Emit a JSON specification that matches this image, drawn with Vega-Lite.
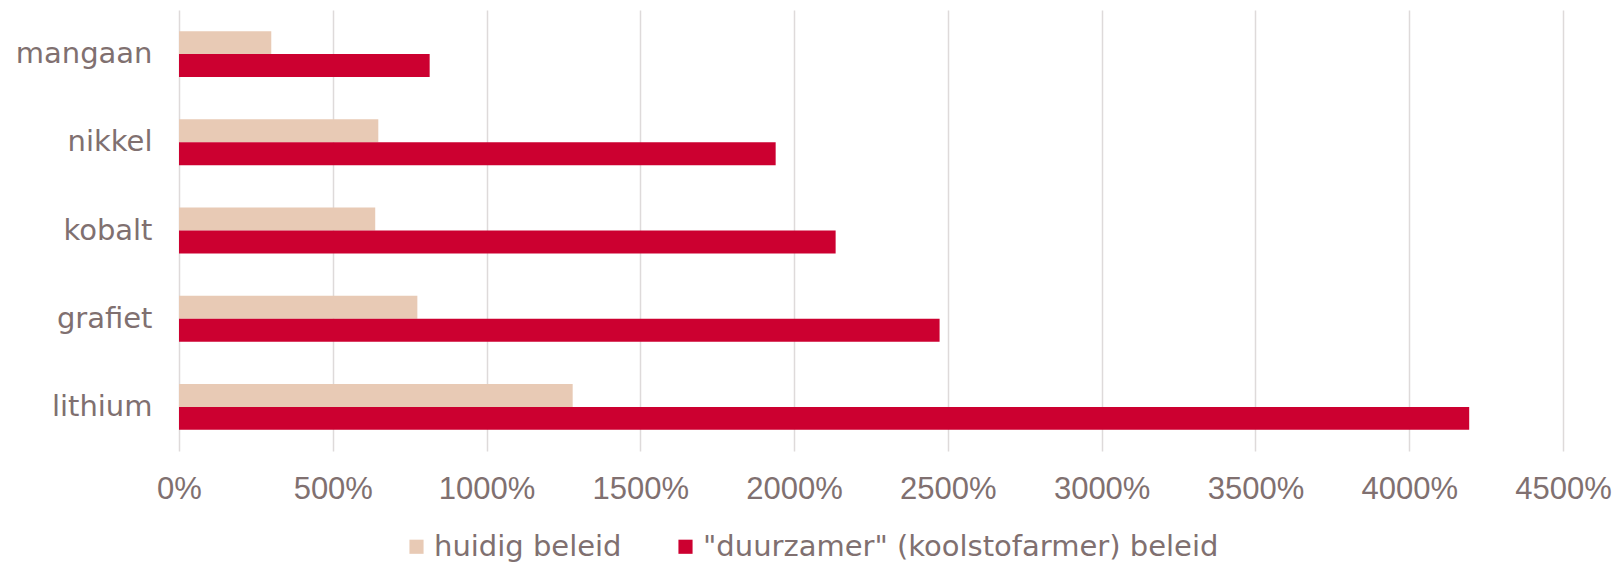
{
  "$schema": "https://vega.github.io/schema/vega-lite/v6.json",
  "autosize": {"type": "none"},
  "width": 1384,
  "height": 441,
  "padding": {"left": 179, "top": 10, "right": 52, "bottom": 114},
  "background": "white",
  "config": {"view": {"stroke": null}},
  "data": {
    "values": [
      {"materiaal": "mangaan", "beleid": "huidig beleid", "waarde": 300},
      {"materiaal": "mangaan", "beleid": "\"duurzamer\" (koolstofarmer) beleid", "waarde": 815},
      {"materiaal": "nikkel", "beleid": "huidig beleid", "waarde": 648},
      {"materiaal": "nikkel", "beleid": "\"duurzamer\" (koolstofarmer) beleid", "waarde": 1940},
      {"materiaal": "kobalt", "beleid": "huidig beleid", "waarde": 638},
      {"materiaal": "kobalt", "beleid": "\"duurzamer\" (koolstofarmer) beleid", "waarde": 2135},
      {"materiaal": "grafiet", "beleid": "huidig beleid", "waarde": 775},
      {"materiaal": "grafiet", "beleid": "\"duurzamer\" (koolstofarmer) beleid", "waarde": 2473},
      {"materiaal": "lithium", "beleid": "huidig beleid", "waarde": 1280},
      {"materiaal": "lithium", "beleid": "\"duurzamer\" (koolstofarmer) beleid", "waarde": 4195}
    ]
  },
  "mark": {"type": "bar"},
  "encoding": {
    "y": {
      "field": "materiaal",
      "type": "nominal",
      "sort": ["mangaan", "nikkel", "kobalt", "grafiet", "lithium"],
      "scale": {"paddingInner": 0.48, "paddingOuter": 0.24},
      "axis": {
        "title": null,
        "ticks": false,
        "domain": false,
        "grid": false,
        "labelPadding": 27,
        "labelFont": "DejaVu Sans",
        "labelFontSize": 29,
        "labelColor": "#807070"
      }
    },
    "yOffset": {
      "field": "beleid",
      "type": "nominal",
      "sort": ["huidig beleid", "\"duurzamer\" (koolstofarmer) beleid"],
      "scale": {"paddingInner": 0, "paddingOuter": 0}
    },
    "x": {
      "field": "waarde",
      "type": "quantitative",
      "scale": {"domain": [0, 4500], "nice": false},
      "axis": {
        "title": null,
        "values": [0, 500, 1000, 1500, 2000, 2500, 3000, 3500, 4000, 4500],
        "labelExpr": "datum.value + '%'",
        "ticks": false,
        "domain": false,
        "grid": true,
        "gridColor": "#DEDADA",
        "gridWidth": 1.5,
        "labelPadding": 23,
        "labelFont": "Liberation Sans",
        "labelFontSize": 31,
        "labelColor": "#807070",
        "labelFlush": false,
        "labelOverlap": false
      }
    },
    "color": {
      "field": "beleid",
      "type": "nominal",
      "sort": ["huidig beleid", "\"duurzamer\" (koolstofarmer) beleid"],
      "scale": {
        "domain": ["huidig beleid", "\"duurzamer\" (koolstofarmer) beleid"],
        "range": ["#E8CAB5", "#CC0030"]
      },
      "legend": {
        "title": null,
        "orient": "none",
        "direction": "horizontal",
        "legendX": 223,
        "legendY": 522,
        "symbolType": "square",
        "symbolSize": 200,
        "symbolStrokeWidth": 0,
        "symbolOpacity": 1,
        "labelOffset": 3,
        "labelFont": "DejaVu Sans",
        "labelFontSize": 29,
        "labelColor": "#807070",
        "labelLimit": 0,
        "columnPadding": 49
      }
    }
  }
}
